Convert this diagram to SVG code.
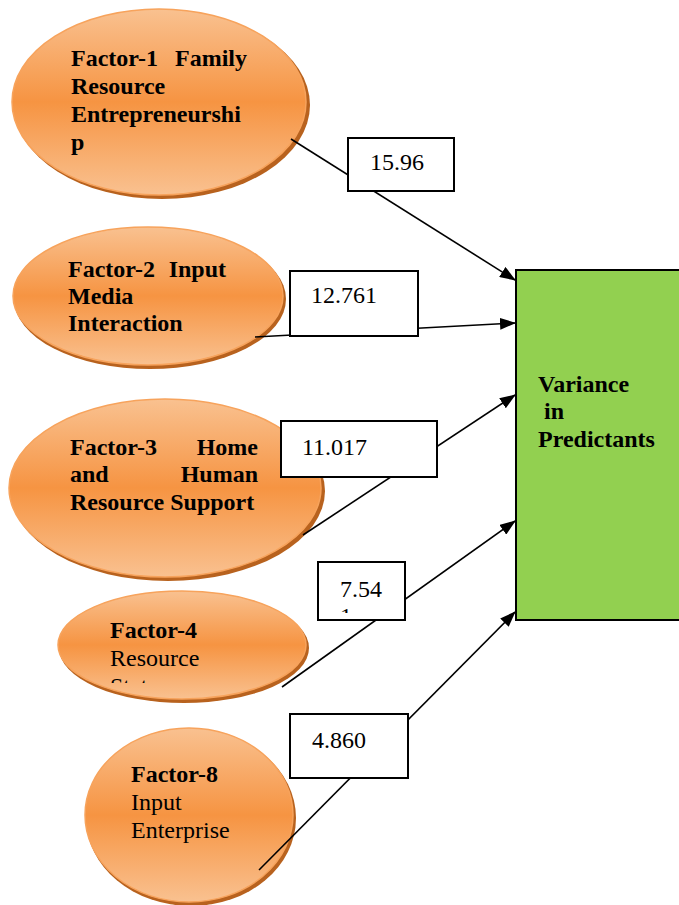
<svg xmlns="http://www.w3.org/2000/svg" width="679" height="905" viewBox="0 0 679 905">
<defs>
<linearGradient id="og" x1="0" y1="0" x2="0" y2="1">
<stop offset="0" stop-color="#f9c190"/>
<stop offset="0.5" stop-color="#f69442"/>
<stop offset="1" stop-color="#f9c190"/>
</linearGradient>
<marker id="ah" markerWidth="16" markerHeight="12" refX="15" refY="6" orient="auto" markerUnits="userSpaceOnUse">
<path d="M0,0 L16,6 L0,12 Z" fill="#000"/>
</marker>
<clipPath id="c4"><rect x="0" y="590" width="679" height="93"/></clipPath>
<clipPath id="cb4"><rect x="318" y="562" width="87" height="51"/></clipPath>
</defs>
<style>
.sh{fill:#b8621e}
.el{fill:url(#og);stroke:#f7a35c;stroke-width:1.5}
.b{font-family:"Liberation Serif","Times New Roman",serif;font-weight:bold;font-size:24px;fill:#000}
.r{font-family:"Liberation Serif","Times New Roman",serif;font-size:24px;fill:#000}
.box{fill:#fff;stroke:#000;stroke-width:2}
.ln{stroke:#000;stroke-width:1.6;fill:none}
</style>
<rect width="679" height="905" fill="#fff"/>

<g id="factor1">
<ellipse class="sh" cx="162" cy="105" rx="148" ry="94"/>
<ellipse class="el" cx="159" cy="102" rx="147" ry="93"/>
<text class="b" x="71" y="66">Factor-1</text>
<text class="b" x="247" y="66" text-anchor="end">Family</text>
<text class="b" x="71" y="94">Resource</text>
<text class="b" x="71" y="122">Entrepreneurshi</text>
<text class="b" x="71" y="150">p</text>
</g>

<g id="factor2">
<ellipse class="sh" cx="150" cy="299" rx="136" ry="70"/>
<ellipse class="el" cx="148" cy="296" rx="135" ry="69"/>
<text class="b" x="68" y="277">Factor-2</text>
<text class="b" x="226" y="277" text-anchor="end">Input</text>
<text class="b" x="68" y="304">Media</text>
<text class="b" x="68" y="331">Interaction</text>
</g>

<g id="factor3">
<ellipse class="sh" cx="168" cy="491" rx="157" ry="90"/>
<ellipse class="el" cx="165" cy="488" rx="156" ry="89"/>
<text class="b" x="70" y="455">Factor-3</text>
<text class="b" x="258" y="455" text-anchor="end">Home</text>
<text class="b" x="70" y="482">and</text>
<text class="b" x="258" y="482" text-anchor="end">Human</text>
<text class="b" x="70" y="510">Resource Support</text>
</g>

<g id="factor4">
<ellipse class="sh" cx="184" cy="648" rx="125" ry="55"/>
<ellipse class="el" cx="182" cy="645" rx="124" ry="54"/>
<text class="b" x="110" y="638">Factor-4</text>
<text class="r" x="110" y="666">Resource</text>
<text class="r" x="110" y="694" clip-path="url(#c4)">Status</text>
</g>

<g id="factor8">
<ellipse class="sh" cx="191" cy="818" rx="105" ry="88"/>
<ellipse class="el" cx="189" cy="815" rx="104" ry="87"/>
<text class="b" x="131" y="782">Factor-8</text>
<text class="r" x="131" y="810">Input</text>
<text class="r" x="131" y="838">Enterprise</text>
</g>

<g id="connectors">
<line class="ln" x1="291" y1="139" x2="515" y2="280" marker-end="url(#ah)"/>
<line class="ln" x1="255" y1="337" x2="515" y2="323" marker-end="url(#ah)"/>
<line class="ln" x1="303" y1="535" x2="515" y2="395" marker-end="url(#ah)"/>
<line class="ln" x1="282" y1="687" x2="515" y2="521" marker-end="url(#ah)"/>
<line class="ln" x1="259" y1="870" x2="515" y2="612" marker-end="url(#ah)"/>
</g>

<g id="variance">
<rect x="516" y="270" width="170" height="350" fill="#92d050" stroke="#000" stroke-width="2"/>
<text class="b" x="538" y="392">Variance</text>
<text class="b" x="538" y="419" xml:space="preserve"> in</text>
<text class="b" x="538" y="447">Predictants</text>
</g>

<g id="label1">
<rect class="box" x="348" y="138" width="106" height="53"/>
<text class="r" x="370" y="170">15.96</text>
</g>
<g id="label2">
<rect class="box" x="290" y="271" width="128" height="65"/>
<text class="r" x="311" y="303">12.761</text>
</g>
<g id="label3">
<rect class="box" x="281" y="421" width="156" height="56"/>
<text class="r" x="302" y="455">11.017</text>
</g>
<g id="label4">
<rect class="box" x="318" y="562" width="87" height="58"/>
<text class="r" x="340" y="597">7.54</text>
<text class="r" x="340" y="624" clip-path="url(#cb4)">1</text>
</g>
<g id="label5">
<rect class="box" x="290" y="714" width="118" height="64"/>
<text class="r" x="312" y="748">4.860</text>
</g>
</svg>
